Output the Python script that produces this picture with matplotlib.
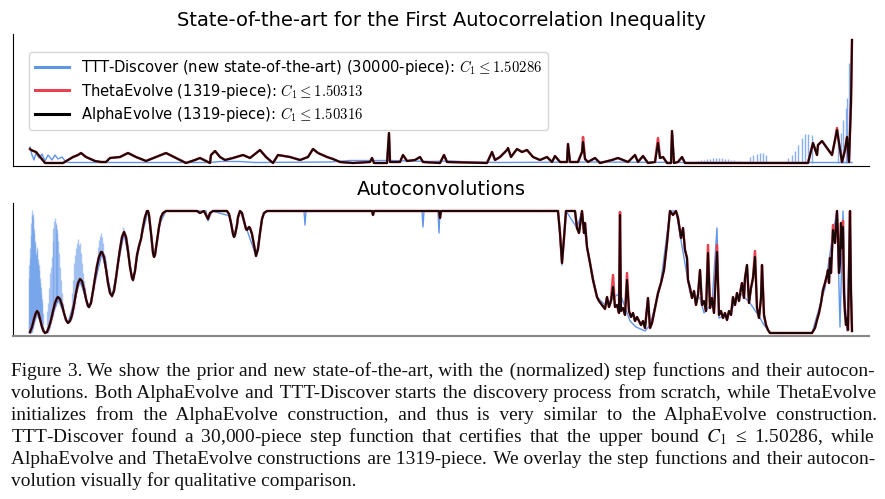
import matplotlib
matplotlib.use("Agg")
import matplotlib.pyplot as plt
import numpy as np

plt.rcParams['mathtext.fontset'] = 'cm'

# positions t on a 0..822 grid across the support, heights in arbitrary units
alpha_top = np.array([
    (0, 14), (1, 13), (6, 11), (11, 5), (15, 0), (26, 0), (33, 0), (38, 3), (43, 6), (48, 8),
    (51, 10), (56, 6), (65, 2), (71, 1), (76, 1), (80, 5), (90, 6), (98, 10), (106, 6), (116, 2),
    (126, 6), (136, 10), (146, 5), (156, 0), (165, 3), (170, 5), (176, 2), (180, 0), (181, 8),
    (185, 12), (190, 6), (195, 3), (203, 5), (213, 8), (220, 5), (230, 13), (236, 6), (243, 0),
    (248, 8), (260, 6), (270, 3), (278, 6), (283, 14), (288, 10), (297, 6), (303, 4), (310, 1),
    (323, 0), (340, 1), (342, 5), (344, 0), (357, 0), (359, 30), (360, 1), (370, 1), (373, 8),
    (377, 2), (385, 3), (390, 6), (393, 1), (410, 0), (414, 8), (417, 1), (457, 0), (462, 11),
    (465, 3), (470, 6), (477, 13), (478, 15), (481, 6), (487, 14), (492, 11), (497, 13), (503, 6),
    (510, 3), (517, 6), (522, 1), (525, 7), (530, 1), (537, 1), (538, 19), (540, 1), (548, 1),
    (552, 11), (553, 21), (555, 4), (558, 1), (565, 5), (570, 0), (582, 3), (588, 5), (598, 1),
    (605, 8), (608, 1), (613, 7), (618, 0), (625, 1), (628, 20), (630, 5), (633, 6), (637, 0),
    (641, 0), (642, 32), (644, 0), (648, 1), (652, 6), (655, 0), (778, 0), (783, 20), (787, 8),
    (788, 18), (792, 22), (797, 15), (802, 8), (805, 23), (807, 33), (809, 20), (812, 1),
    (815, 13), (817, 26), (819, 1), (821, 60), (822, 123),
])
theta_top_peaks = {553: 26, 628: 25, 807: 35}

ttt_top = np.array([
    (0, 16), (2, 8), (4, 3), (6, 10), (9, 5), (12, 9), (15, 2), (18, 8), (22, 3), (25, 8),
    (28, 4), (32, 6), (36, 1), (40, 0.5), (180, 0.5), (190, 1.5), (210, 1.5), (225, 0.5),
    (300, 1), (320, 2.5), (360, 2.5), (400, 1.5), (420, 2), (440, 1), (470, 0.5), (560, 1),
    (660, 0.5), (822, 0.5),
])
ttt_top_spikes = np.array([
    (668, 2), (671, 3), (674, 3), (677, 4), (680, 4), (683, 5), (686, 5), (689, 5), (692, 5),
    (695, 4), (698, 4), (701, 3), (704, 3), (707, 2), (710, 2),
    (720, 6), (723, 8), (727, 9), (730, 10), (733, 10), (736, 8),
    (758, 5), (762, 8), (765, 12), (768, 18), (772, 25), (775, 29), (778, 29), (782, 28),
    (808, 20), (811, 30), (813, 43), (816, 55), (817, 65), (819, 100),
])

alpha_conv = np.array([
    (0, 1), (2, 6), (4, 14), (5.5, 19), (7, 22), (8.5, 20), (10, 14), (12, 6), (13.5, 2), (15, 0),
    (17, 1), (19, 6), (21, 13), (23, 22), (25, 30), (27, 35), (28, 36), (30, 34), (32, 28),
    (34, 20), (36, 13), (38, 10), (40, 12), (42, 18), (44, 28), (46, 40), (48, 50), (50, 54),
    (52, 52), (54, 44), (56, 34), (58, 27), (59, 26), (61, 30), (63, 42), (65, 55), (67, 67),
    (69, 76), (71, 81), (72, 81), (74, 76), (76, 64), (78, 50), (80, 40), (82, 37), (84, 42),
    (86, 55), (88, 70), (90, 84), (92, 96), (94, 101), (96, 96), (98, 82), (100, 66), (102, 55),
    (103, 53), (105, 62), (107, 78), (109, 87), (111, 94), (113, 106), (115, 116), (117, 122),
    (118, 122), (119, 118), (121, 100), (123, 80), (124, 76), (125, 78), (127, 92), (129, 106),
    (131, 116), (133, 120), (136, 122), (167, 122), (170, 120), (174, 122),
    (176, 118), (178, 114), (180, 120), (183, 122), (197, 122), (199, 119), (201, 110),
    (203, 99), (204, 96), (205, 98), (207, 108), (208, 116), (210, 122), (212, 120), (214, 112),
    (216, 104), (217, 103), (219, 106), (220, 105), (222, 99), (224, 88), (226, 77), (228, 84),
    (230, 100), (232, 114), (234, 120), (237, 122), (342, 122), (343, 118), (344, 122),
    (409, 122), (410, 115), (411, 122),
    (528, 122), (530, 100), (532, 70), (534, 95), (536, 122), (545, 122), (547, 105), (549, 100),
    (551, 115), (552, 122), (554, 100), (555, 110), (557, 86), (560, 70), (563, 53), (566, 40),
    (567, 36), (569, 32), (572, 28), (575, 24), (577, 36), (579, 26), (581, 32), (583, 46),
    (585, 26), (587, 28), (589, 20), (590, 118), (591, 22), (593, 25), (595, 18), (597, 53),
    (599, 22), (601, 16), (603, 20), (605, 12), (607, 16), (609, 12), (611, 8), (613, 12),
    (615, 5), (618, 35), (620, 5), (622, 10), (625, 25), (628, 40), (631, 50), (634, 63),
    (637, 90), (640, 122), (643, 118), (646, 122), (648, 115), (651, 95), (653, 105), (655, 83),
    (657, 75), (658, 53), (660, 45), (662, 35), (664, 42), (666, 28), (668, 38), (670, 63),
    (672, 28), (674, 32), (676, 22), (678, 80), (680, 25), (682, 35), (684, 20), (687, 81),
    (689, 18), (691, 22), (693, 15), (695, 20), (697, 13), (699, 22), (701, 18), (703, 36),
    (705, 28), (707, 40), (709, 32), (711, 45), (712, 50), (714, 35), (715, 55), (717, 68),
    (719, 30), (721, 45), (723, 55), (725, 76), (727, 25), (729, 15), (731, 35), (732, 68),
    (734, 18), (736, 8), (738, 3), (740, 0), (782, 0), (785, 5), (787, 13), (789, 20), (791, 30),
    (793, 43), (795, 50), (797, 58), (798, 63), (799, 50), (800, 75), (801, 60), (803, 103),
    (805, 90), (807, 122), (808, 95), (809, 60), (810, 70), (811, 110), (812, 85), (813, 106),
    (814, 40), (815, 20), (816, 8), (817, 15), (818, 3), (819, 60), (820, 122), (821, 40),
    (822, 2),
])
theta_conv_peaks = {583: 58, 590: 121, 597: 60, 678: 88, 687: 88, 725: 82, 803: 108, 813: 112}

ttt_conv = np.array([
    (0, 0), (3, 8), (7, 20), (11, 10), (15, 0), (18, 3), (28, 34), (38, 10), (50, 52), (59, 25),
    (72, 80), (82, 36), (94, 100), (103, 52), (110, 90), (118, 122), (124, 76), (130, 110),
    (136, 122), (176, 122), (178, 112), (182, 122), (200, 117), (204, 96), (210, 122),
    (217, 103), (226, 77), (233, 118), (237, 122), (274, 122), (275, 108), (276, 122),
    (392, 122), (393, 106), (394, 122), (408, 122), (409, 100), (410, 122), (528, 122),
    (532, 68), (536, 122), (547, 105), (552, 122), (557, 86), (567, 36), (575, 28), (583, 35),
    (590, 40), (600, 12), (606, 6), (615, 2), (620, 8), (630, 45), (640, 122), (646, 122),
    (660, 40), (670, 35), (674, 20), (682, 30), (687, 105), (689, 15), (700, 20), (710, 40),
    (720, 30), (730, 15), (734, 8), (738, 3), (740, 0), (782, 0), (795, 45), (803, 100),
    (807, 122), (810, 6), (813, 122), (815, 30), (817, 2), (820, 122), (822, 2),
])
ttt_conv_ripples = np.array([
    (-1.5, 55), (-1, 68), (-0.5, 75), (0, 85), (0.5, 98), (1, 110), (1.5, 118), (2, 123),
    (2.5, 119), (3, 115), (3.5, 104), (4, 100), (4.5, 92), (5, 90), (5.5, 78), (6, 80), (6.5, 86),
    (7, 83), (7.5, 74), (8, 70), (8.5, 68), (9, 63), (9.5, 55), (10, 50), (10.5, 46), (11, 40),
    (11.5, 34), (12, 30), (13, 20),
    (17, 22), (18, 30), (19, 45), (20, 60), (21, 66), (22, 76), (22.5, 92), (23, 105), (24, 112),
    (25, 115), (25.5, 110), (26, 108), (26.5, 104), (27, 100), (28, 92), (29, 80), (30, 66),
    (31, 53), (32, 40), (33, 30),
    (42, 40), (43, 53), (44, 70), (45, 78), (46, 85), (47, 90), (48, 94), (49, 88), (50, 90),
    (51, 80), (52, 70), (53, 60), (54, 52), (55, 46), (56, 38), (57, 30),
    (64, 52), (65, 60), (66, 70), (67, 76), (68, 86), (69, 93), (70, 97), (71, 100), (72, 96),
    (73, 90), (74, 80), (75, 78), (76, 73), (77, 64), (78, 55),
    (90, 84), (91, 90), (92, 98), (93, 106), (94, 104), (95, 100), (96, 96), (97, 92), (98, 88),
])

caption_lines = [
    "Figure 3. We show the prior and new state-of-the-art, with the (normalized) step functions and their autocon-",
    "volutions. Both AlphaEvolve and TTT-Discover starts the discovery process from scratch, while ThetaEvolve",
    "initializes from the AlphaEvolve construction, and thus is very similar to the AlphaEvolve construction.",
    "TTT-Discover found a 30,000-piece step function that certifies that the upper bound $C_1$ \u2264 1.50286, while",
    "AlphaEvolve and ThetaEvolve constructions are 1319-piece. We overlay the step functions and their autocon-",
    "volution visually for qualitative comparison.",
]

labels = [
    "TTT-Discover (new state-of-the-art) (30000-piece): $C_1 \\leq 1.50286$",
    "ThetaEvolve (1319-piece): $C_1 \\leq 1.50313$",
    "AlphaEvolve (1319-piece): $C_1 \\leq 1.50316$",
]

BLUE = '#6096ea'
RED = '#e8414f'


def to_x(t):
    return -0.25 + 0.5 * np.asarray(t) / 822.0


def with_peaks(arr, peaks):
    out = arr.copy()
    for i, (t, v) in enumerate(out):
        if t in peaks:
            out[i, 1] = peaks[t]
    return out


W, H = 885, 499
fig = plt.figure(figsize=(W / 100, H / 100), dpi=100)
ax1 = fig.add_axes([13 / W, 1 - 166 / H, 856 / W, 132 / H])
ax2 = fig.add_axes([13 / W, 1 - 336 / H, 856 / W, 133 / H])

theta_top = with_peaks(alpha_top, theta_top_peaks)
theta_conv = with_peaks(alpha_conv, theta_conv_peaks)

# top: step functions
ax1.plot(to_x(ttt_top[:, 0]), ttt_top[:, 1], color=BLUE, lw=1.0, zorder=1, label=labels[0])
ax1.vlines(to_x(ttt_top_spikes[:, 0]), 0, ttt_top_spikes[:, 1], color=BLUE, lw=1.0, alpha=0.75, zorder=1)
ax1.plot(to_x(theta_top[:, 0]), theta_top[:, 1], color=RED, lw=1.8, zorder=2, label=labels[1])
ax1.plot(to_x(alpha_top[:, 0]), alpha_top[:, 1], color='black', lw=1.5, alpha=0.88, zorder=3, label=labels[2])
ax1.set_xlim(to_x(-17), to_x(839))
ax1.set_ylim(-3, 129)
ax1.set_title("State-of-the-art for the First Autocorrelation Inequality", fontsize=14)
leg = ax1.legend(loc='upper left', bbox_to_anchor=(0.0187, 0.8636), borderaxespad=0,
                 fontsize=10.6, handlelength=2.3, labelspacing=0.32)
for h in leg.get_lines():
    h.set_linewidth(2.2)
    h.set_alpha(1)

# bottom: autoconvolutions
ripple_low = np.interp(ttt_conv_ripples[:, 0], alpha_conv[:, 0], alpha_conv[:, 1]) - 4
ax2.vlines(to_x(ttt_conv_ripples[:, 0]), np.clip(ripple_low, 0, None), ttt_conv_ripples[:, 1],
           color=BLUE, lw=1.0, alpha=0.5, zorder=1)
ax2.plot(to_x(ttt_conv[:, 0]), ttt_conv[:, 1], color=BLUE, lw=1.0, zorder=1)
ax2.plot(to_x(theta_conv[:, 0]), theta_conv[:, 1], color=RED, lw=1.8, zorder=2)
ax2.plot(to_x(alpha_conv[:, 0]), alpha_conv[:, 1], color='black', lw=1.5, alpha=0.88, zorder=3)
ax2.set_xlim(to_x(-17), to_x(839))
ax2.set_ylim(-3, 130)
ax2.set_title("Autoconvolutions", fontsize=14)

for ax in (ax1, ax2):
    ax.spines['top'].set_visible(False)
    ax.spines['right'].set_visible(False)
    ax.tick_params(left=False, bottom=False, labelleft=False, labelbottom=False)
ax2.spines['bottom'].set_color('#888888')
ax2.spines['bottom'].set_linewidth(1.5)

# justified caption: one text per line, word gaps widened with hair spaces
renderer = fig.canvas.get_renderer()
left, right = 11, 875
baselines = [376, 398, 420, 442, 464, 486]
HAIR = '\u200a'
cap_style = dict(family=['Liberation Serif', 'DejaVu Serif'], math_fontfamily='stix',
                 va='baseline', ha='left', color='#111111')

probe = fig.text(0, 0, '', fontsize=12, **cap_style)


def measure(s):
    probe.set_text(s)
    return probe.get_window_extent(renderer).width


natural = [measure(line) for line in caption_lines[:-1]]
size = 12 * 0.985 * (right - left) / max(natural)
probe.set_fontsize(size)
hair_w = (measure('a' + HAIR * 10 + 'a') - measure('aa')) / 10

for k, line in enumerate(caption_lines):
    words = line.split(' ')
    text = line
    if k < len(caption_lines) - 1:
        extra = (right - left) - measure(line)
        per_gap = extra / (len(words) - 1)
        parts = [words[0]]
        for i, w in enumerate(words[1:]):
            n = int(round((i + 1) * per_gap / hair_w)) - int(round(i * per_gap / hair_w))
            parts.append(' ' + HAIR * max(n, 0) + w)
        text = ''.join(parts)
    fig.text(left / W, 1 - baselines[k] / H, text, fontsize=size, **cap_style)
probe.remove()

fig.savefig("out.png", dpi=100)
